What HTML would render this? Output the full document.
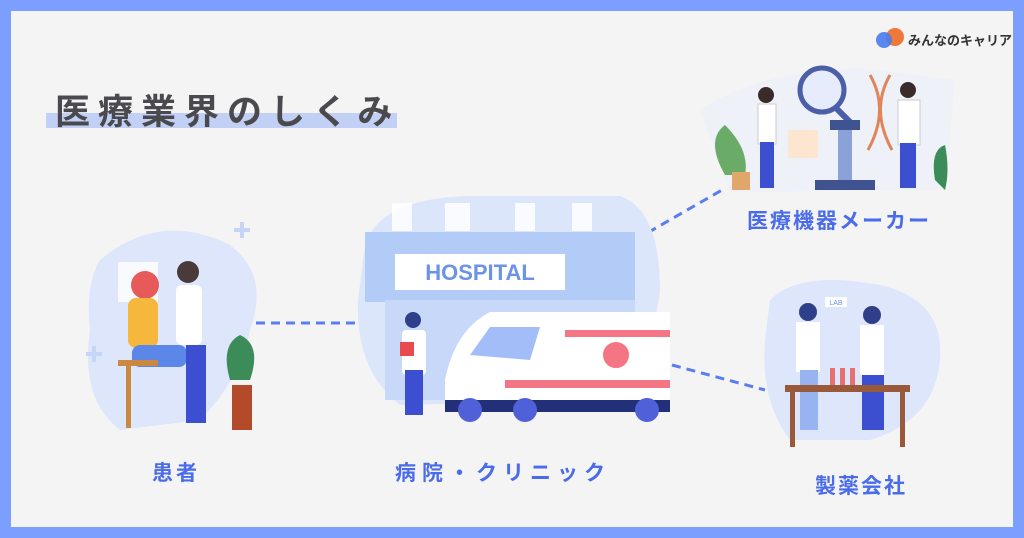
<!DOCTYPE html><html><head><meta charset="utf-8"><style>
body{margin:0;width:1024px;height:538px;overflow:hidden;background:#7b9eff;font-family:"Liberation Sans","Noto Sans CJK JP",sans-serif}
.f{position:absolute;left:11px;top:11px;width:1002px;height:516px;background:#f4f4f4}
.t{position:absolute;font-weight:bold;white-space:nowrap}
</style></head><body><div class="f"></div>
<svg width="1024" height="538" style="position:absolute;left:0;top:0">
<rect x="46" y="113" width="351" height="15" fill="#c3d0f5"/>
<g stroke="#5a7ef0" stroke-width="3" stroke-dasharray="9,6" fill="none">
<line x1="256" y1="323" x2="372" y2="323"/><line x1="635" y1="240" x2="722" y2="190"/><line x1="672" y1="365" x2="765" y2="390"/></g>
<path d="M100 260 Q160 210 230 245 Q270 275 250 330 Q240 380 200 420 L120 430 Q80 400 90 330 Q85 285 100 260Z" fill="#dde6fb"/>
<rect x="118" y="262" width="40" height="40" fill="#fff" opacity=".8"/>
<circle cx="145" cy="285" r="14" fill="#e85a5a"/><rect x="128" y="298" width="30" height="50" rx="8" fill="#f5b83d"/>
<rect x="132" y="345" width="55" height="22" rx="8" fill="#5b87e8"/><rect x="118" y="360" width="40" height="6" fill="#c9893e"/>
<rect x="126" y="366" width="5" height="62" fill="#c9893e"/>
<circle cx="188" cy="272" r="11" fill="#4a3a3a"/><rect x="176" y="285" width="26" height="60" rx="6" fill="#fff"/><rect x="186" y="345" width="20" height="78" fill="#3b4fd0"/>
<path d="M230 380 Q220 345 240 335 Q262 345 250 380Z" fill="#3c8c5a"/><rect x="232" y="385" width="20" height="45" fill="#b34a2a"/>
<g fill="#c6d5f7"><rect x="86" y="352" width="16" height="4"/><rect x="92" y="346" width="4" height="16"/><rect x="234" y="228" width="16" height="4"/><rect x="240" y="222" width="4" height="16"/></g>
<path d="M365 245 Q380 198 470 196 L620 196 Q660 210 660 290 Q655 350 600 400 L400 405 Q355 370 358 300Z" fill="#dce6fb"/>
<rect x="365" y="232" width="270" height="70" fill="#b3cbf7"/>
<rect x="395" y="254" width="170" height="36" fill="#fff"/>
<text x="480" y="280" text-anchor="middle" font-family="Liberation Sans" font-weight="bold" font-size="22" fill="#6b93e6">HOSPITAL</text>
<rect x="385" y="300" width="250" height="100" fill="#c7d8f8"/>
<g fill="#fff" opacity=".85"><rect x="392" y="203" width="20" height="28"/><rect x="445" y="203" width="25" height="28"/><rect x="515" y="203" width="20" height="28"/><rect x="572" y="203" width="20" height="28"/></g>
<path d="M445 380 Q455 330 490 312 L670 312 L670 405 L445 405Z" fill="#fff"/>
<path d="M470 355 L490 327 L540 327 L530 360Z" fill="#a3bdf8"/>
<rect x="565" y="330" width="105" height="7" fill="#f47583"/><rect x="505" y="380" width="165" height="8" fill="#f47583"/>
<circle cx="616" cy="355" r="14" fill="#f47583" stroke="#fff" stroke-width="2"/>
<rect x="445" y="400" width="225" height="12" fill="#22307a"/>
<g fill="#5060d8"><circle cx="470" cy="410" r="12"/><circle cx="525" cy="410" r="12"/><circle cx="647" cy="410" r="12"/></g>
<circle cx="413" cy="320" r="8" fill="#2f3f8a"/><rect x="402" y="330" width="24" height="45" rx="4" fill="#fff"/><rect x="405" y="370" width="18" height="45" fill="#3b4fd0"/><rect x="400" y="342" width="14" height="14" fill="#e84a50"/>
<path d="M700 110 Q760 70 860 68 L955 80 L945 190 L730 192Z" fill="#eef1f8"/>
<circle cx="822" cy="90" r="22" fill="#e6ecfb" stroke="#4a5fa8" stroke-width="5"/><line x1="836" y1="108" x2="856" y2="128" stroke="#4a5fa8" stroke-width="6"/>
<circle cx="766" cy="95" r="8" fill="#3a2a2a"/><rect x="758" y="104" width="18" height="40" fill="#fff" stroke="#ccc"/><rect x="760" y="142" width="14" height="46" fill="#3b4fd0"/>
<rect x="788" y="130" width="30" height="28" fill="#fde6cf"/>
<rect x="830" y="120" width="30" height="10" fill="#3e5390"/><rect x="838" y="130" width="14" height="50" fill="#8aa2d8"/><rect x="815" y="180" width="60" height="10" fill="#3e5390"/>
<path d="M870 75 Q890 110 868 150 M890 75 Q870 110 892 150" stroke="#e0855a" stroke-width="3" fill="none"/>
<circle cx="908" cy="90" r="8" fill="#3a2a2a"/><rect x="898" y="100" width="22" height="45" fill="#fff" stroke="#ccc"/><rect x="900" y="143" width="16" height="45" fill="#3b4fd0"/>
<path d="M935 180 Q930 150 945 145 Q950 170 945 190Z" fill="#3c8c5a"/><path d="M725 175 Q705 140 725 125 Q750 150 745 175Z" fill="#6bab68"/><rect x="732" y="172" width="18" height="18" fill="#e0a66a"/>
<path d="M770 300 Q800 270 880 285 Q945 300 940 360 Q935 420 870 440 L790 440 Q760 400 765 340Z" fill="#dde6fb"/>
<rect x="825" y="297" width="22" height="10" fill="#fff"/><text x="836" y="305" text-anchor="middle" font-size="7" fill="#6b93e6">LAB</text>
<circle cx="808" cy="312" r="9" fill="#2f3f8a"/><rect x="796" y="322" width="24" height="50" fill="#fff"/><rect x="800" y="370" width="18" height="60" fill="#98b4f0"/>
<circle cx="872" cy="315" r="9" fill="#2f3f8a"/><rect x="860" y="325" width="24" height="50" fill="#fff"/><rect x="862" y="375" width="22" height="55" fill="#3b4fd0"/>
<rect x="785" y="385" width="125" height="7" fill="#9a5a3a"/><rect x="790" y="392" width="5" height="55" fill="#9a5a3a"/><rect x="900" y="392" width="5" height="55" fill="#9a5a3a"/>
<g fill="#e87070"><rect x="830" y="368" width="5" height="17"/><rect x="840" y="368" width="5" height="17"/><rect x="850" y="368" width="5" height="17"/></g>
<circle cx="895" cy="37" r="9" fill="#f07838"/><circle cx="884" cy="40" r="8" fill="#4a7cf0" opacity=".9"/>
</svg>
<div class="t" style="left:55px;top:84px;font-size:35px;color:#4a4a4e;letter-spacing:8px">医療業界のしくみ</div>
<div class="t" style="left:908px;top:30px;font-size:13px;color:#333">みんなのキャリア</div>
<div class="t" style="left:152px;top:457px;font-size:21px;color:#4a6bea;letter-spacing:3px">患者</div>
<div class="t" style="left:395px;top:457px;font-size:21px;color:#4a6bea;letter-spacing:6px">病院・クリニック</div>
<div class="t" style="left:747px;top:205px;font-size:21px;color:#4a6bea;letter-spacing:2px">医療機器メーカー</div>
<div class="t" style="left:815px;top:470px;font-size:21px;color:#4a6bea;letter-spacing:2px">製薬会社</div>
</body></html>
